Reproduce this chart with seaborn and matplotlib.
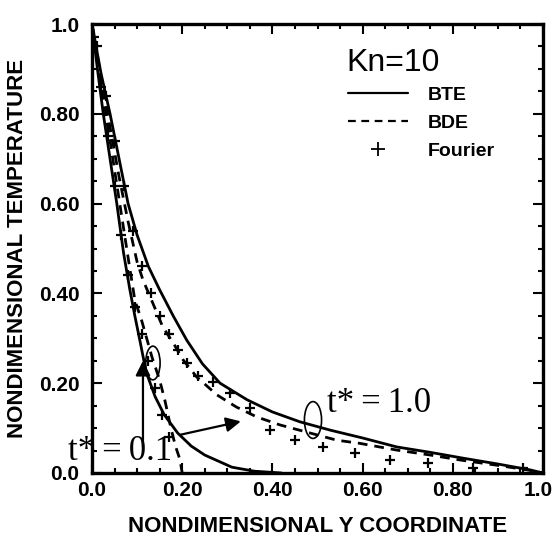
import numpy as np
import pandas as pd
import matplotlib
matplotlib.use("Agg")
import matplotlib.pyplot as plt
import matplotlib.transforms as mtransforms
import seaborn as sns
from matplotlib.patches import Ellipse
from matplotlib.lines import Line2D

# ---- data ----
bte_t01_x = [0.0, 0.012, 0.025, 0.04, 0.055, 0.07, 0.084, 0.095, 0.106, 0.12, 0.14, 0.16, 0.19, 0.22, 0.25, 0.31, 0.36, 0.42]
bte_t01_y = [1.0, 0.90, 0.80, 0.70, 0.60, 0.49, 0.408, 0.35, 0.296, 0.225, 0.17, 0.13, 0.089, 0.06, 0.04, 0.013, 0.004, 0.0]

bte_t1_x = [0.0, 0.02, 0.04, 0.06, 0.08, 0.10, 0.125, 0.15, 0.18, 0.21, 0.245, 0.284, 0.344, 0.40, 0.461, 0.53, 0.60, 0.676, 0.75, 0.823, 0.90, 0.971, 1.0]
bte_t1_y = [1.0, 0.89, 0.80, 0.70, 0.60, 0.53, 0.46, 0.408, 0.35, 0.296, 0.243, 0.20, 0.163, 0.136, 0.114, 0.095, 0.078, 0.058, 0.046, 0.033, 0.02, 0.007, 0.0]

bde_t01_x = [0.0, 0.02, 0.04, 0.06, 0.08, 0.095, 0.11, 0.133, 0.15, 0.162, 0.175, 0.185, 0.195, 0.20]
bde_t01_y = [1.0, 0.86, 0.74, 0.61, 0.48, 0.385, 0.34, 0.258, 0.207, 0.16, 0.10, 0.06, 0.03, 0.0]

bde_t1_x = [0.0, 0.02, 0.04, 0.06, 0.08, 0.10, 0.113, 0.135, 0.157, 0.18, 0.202, 0.232, 0.277, 0.32, 0.365, 0.417, 0.48, 0.543, 0.594, 0.676, 0.75, 0.816, 0.90, 0.97, 1.0]
bde_t1_y = [1.0, 0.88, 0.77, 0.66, 0.56, 0.47, 0.43, 0.378, 0.325, 0.29, 0.252, 0.214, 0.174, 0.147, 0.125, 0.107, 0.09, 0.073, 0.066, 0.051, 0.04, 0.029, 0.017, 0.006, 0.0]

fou_t01_x = [0.005, 0.02, 0.035, 0.05, 0.065, 0.08, 0.095, 0.11, 0.125, 0.14, 0.155, 0.17]
fou_t01_y = [0.97, 0.86, 0.75, 0.64, 0.53, 0.44, 0.37, 0.31, 0.25, 0.19, 0.13, 0.08]

fou_t1_x = [0.01, 0.03, 0.05, 0.07, 0.09, 0.11, 0.13, 0.15, 0.17, 0.19, 0.21, 0.235, 0.268, 0.306, 0.35, 0.395, 0.45, 0.512, 0.583, 0.66, 0.745, 0.845, 0.955]
fou_t1_y = [0.95, 0.84, 0.74, 0.64, 0.54, 0.46, 0.40, 0.35, 0.31, 0.275, 0.245, 0.215, 0.203, 0.178, 0.145, 0.096, 0.073, 0.058, 0.044, 0.029, 0.022, 0.011, 0.011]

tick_vals = [0.0, 0.2, 0.4, 0.6, 0.8, 1.0]
x_tick_labels = ["0.0", "0.20", "0.40", "0.60", "0.80", "1.0"]
y_tick_labels = ["0.0", "0.20", "0.40", "0.60", "0.80", "1.0"]
legend_labels = ["BTE", "BDE", "Fourier"]

# ---- figure ----
sns.set_style("ticks")
plt.rcParams["font.family"] = ["Liberation Sans", "DejaVu Sans"]
plt.rcParams.update({"text.color": "black", "axes.labelcolor": "black",
                     "xtick.color": "black", "ytick.color": "black",
                     "xtick.labelcolor": "black", "ytick.labelcolor": "black",
                     "axes.edgecolor": "black"})

fig = plt.figure(figsize=(5.56, 5.40), dpi=100)
ax = fig.add_axes([92 / 556, 1 - 473 / 540, (543 - 92) / 556, (473 - 24) / 540])

for xs, ys in [(bte_t01_x, bte_t01_y), (bte_t1_x, bte_t1_y)]:
    sns.lineplot(x=xs, y=ys, ax=ax, color="black", lw=2.0, sort=False, estimator=None)
for xs, ys in [(bde_t01_x, bde_t01_y), (bde_t1_x, bde_t1_y)]:
    sns.lineplot(x=xs, y=ys, ax=ax, color="black", lw=2.0, sort=False, estimator=None,
                 linestyle=(0, (3.5, 2.5)))
for xs, ys in [(fou_t01_x, fou_t01_y), (fou_t1_x, fou_t1_y)]:
    sns.scatterplot(x=xs, y=ys, ax=ax, marker="+", color="black", s=45, linewidth=1.6, zorder=3)

ax.set_xlim(0, 1.0)
ax.set_ylim(0, 1.0)
ax.set_xticks(tick_vals)
ax.set_yticks(tick_vals)
ax.set_xticks(np.arange(0, 1.0001, 0.05), minor=True)
ax.set_yticks(np.arange(0, 1.0001, 0.05), minor=True)

tick_font = dict(family=["Liberation Sans", "DejaVu Sans"], weight="bold", size=15, color="black")
ax.set_xticklabels(x_tick_labels, fontdict=tick_font)
ax.set_yticklabels(y_tick_labels, fontdict=tick_font)
ax.tick_params(which="both", direction="in", top=True, right=True, color="black", width=1.5)
ax.tick_params(which="major", length=7)
ax.tick_params(axis="y", which="major", pad=9)
ax.tick_params(axis="x", which="major", pad=6)
ax.tick_params(which="minor", length=3.5)
for sp in ax.spines.values():
    sp.set_visible(True)
    sp.set_linewidth(2.4)
    sp.set_color("black")

# keep the last x tick label inside the canvas
last = ax.get_xticklabels()[-1]
last.set_transform(last.get_transform() + mtransforms.ScaledTranslation(-5 / 100, 0, fig.dpi_scale_trans))

label_font = dict(family=["Liberation Sans", "DejaVu Sans"], weight="bold", size=16, color="black")
ax.set_xlabel("NONDIMENSIONAL Y COORDINATE", fontdict=label_font, labelpad=11)
ax.set_ylabel("NONDIMENSIONAL TEMPERATURE", fontdict=label_font, labelpad=8)

# Kn annotation
ax.text(0.565, 0.895, "Kn=10", transform=ax.transAxes, fontsize=23, color="black",
        family=["Liberation Sans", "DejaVu Sans"], va="baseline", ha="left")

# legend
handles = [Line2D([0], [0], color="black", lw=1.6),
           Line2D([0], [0], color="black", lw=1.6, linestyle=(0, (3.5, 2.5))),
           Line2D([0], [0], color="black", lw=0, marker="+", markersize=10, markeredgewidth=1.3)]
leg = ax.legend(handles, legend_labels, loc="upper left",
                bbox_to_anchor=(348 / 556, 1 - 86 / 540), bbox_transform=fig.transFigure,
                frameon=False, handlelength=3.1, handletextpad=1.0, labelspacing=0.55,
                borderpad=0, borderaxespad=0, labelcolor="black",
                prop=dict(family=["Liberation Sans", "DejaVu Sans"], weight="bold", size=14))

# ellipses marking the two curves
ax.add_patch(Ellipse((0.135, 0.245), 0.032, 0.075, fill=False, lw=1.2, color="black"))
ax.add_patch(Ellipse((0.49, 0.118), 0.038, 0.082, fill=False, lw=1.2, color="black"))

serif = ["Liberation Serif", "DejaVu Serif"]
# t*=0.1 with vertical arrow
ax.annotate("", xy=(0.113, 0.25), xytext=(0.113, 0.058),
            arrowprops=dict(arrowstyle="-|>", lw=1.6, color="black", mutation_scale=22, shrinkA=0, shrinkB=0))
ax.text(-0.053, 0.03, "t*\u2009=\u20090.1", fontsize=25, family=serif, color="black", va="baseline", ha="left")
ax.annotate("", xy=(0.33, 0.115), xytext=(0.195, 0.085),
            arrowprops=dict(arrowstyle="-|>", lw=1.6, color="black", mutation_scale=22, shrinkA=0, shrinkB=0))
ax.text(0.52, 0.136, "t*\u2009=\u20091.0", fontsize=25, family=serif, color="black", va="baseline", ha="left")

fig.savefig("out.png", dpi=100)
